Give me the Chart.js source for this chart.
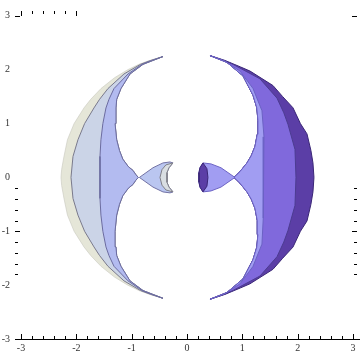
<!DOCTYPE html>
<html>
<head>
<meta charset="utf-8">
<script src="https://cdn.jsdelivr.net/npm/chart.js@4.4.1/dist/chart.umd.min.js"></script>
<style>
  html, body { margin: 0; padding: 0; background: #fff; }
  #wrap { width: 360px; height: 359px; position: relative; }
</style>
</head>
<body>
<div id="wrap"><canvas id="plot"></canvas></div>
<script>
// axis ticks
var tickValues = [-3, -2, -1, 0, 1, 2, 3];

// left crescent, upper half; every curve runs from the tip down to y = 0
var leftOuter = [[-0.434, 2.244], [-0.68, 2.17], [-0.868, 2.10], [-1.07, 2.0], [-1.31, 1.85], [-1.554, 1.65], [-1.74, 1.45], [-1.862, 1.29], [-2.04, 1.0], [-2.16, 0.7], [-2.223, 0.39], [-2.265, 0.15], [-2.277, 0]];
var leftMid   = [[-0.434, 2.244], [-0.66, 2.17], [-0.84, 2.10], [-1.139, 1.92], [-1.428, 1.65], [-1.58, 1.45], [-1.681, 1.29], [-1.85, 1.0], [-1.97, 0.7], [-2.06, 0.39], [-2.096, 0]];
var leftIn    = [[-0.434, 2.244], [-0.64, 2.17], [-0.813, 2.10], [-1.066, 1.92], [-1.319, 1.65], [-1.41, 1.45], [-1.464, 1.29], [-1.52, 1.0], [-1.555, 0.7], [-1.572, 0.39], [-1.572, 0]];
var leftHole  = [[-0.434, 2.244], [-0.62, 2.17], [-0.795, 2.10], [-1.03, 1.92], [-1.193, 1.65], [-1.27, 1.45], [-1.283, 1.29], [-1.30, 1.0], [-1.27, 0.7], [-1.22, 0.5], [-1.16, 0.34], [-1.06, 0.2], [-0.976, 0.13], [-0.93, 0.06], [-0.88, 0]];

// right crescent
var rightOuter = [[0.416, 2.262], [0.687, 2.172], [0.97, 2.05], [1.139, 1.975], [1.554, 1.706], [1.73, 1.5], [1.916, 1.293], [2.05, 1.0], [2.169, 0.808], [2.24, 0.5], [2.277, 0.269], [2.295, 0]];
var rightMid   = [[0.416, 2.262], [0.62, 2.19], [0.831, 2.10], [1.319, 1.831], [1.627, 1.472], [1.75, 1.2], [1.825, 0.987], [1.952, 0.521], [1.970, 0]];
var rightIn    = [[0.416, 2.262], [0.68, 2.16], [0.958, 1.975], [1.193, 1.652], [1.355, 1.239], [1.392, 0.754], [1.374, 0.269], [1.374, 0]];
var rightHole  = [[0.416, 2.262], [0.723, 2.136], [1.012, 1.885], [1.193, 1.526], [1.26, 1.3], [1.283, 1.059], [1.27, 0.8], [1.229, 0.575], [1.16, 0.4], [1.084, 0.269], [0.958, 0.108], [0.9, 0.05], [0.849, 0]];

// small shapes near the centre
var leftFishBack  = [[-0.253, 0.269], [-0.307, 0.287], [-0.434, 0.269], [-0.614, 0.180], [-0.86, 0]];
var leftFishFront = [[-0.253, 0.269], [-0.325, 0.180], [-0.361, 0.090], [-0.361, 0]];
var leftFishLine  = [[-0.253, 0.269], [-0.380, 0.233], [-0.452, 0.144], [-0.488, 0]];
var rightFishBack  = [[0.289, 0.269], [0.434, 0.251], [0.614, 0.180], [0.867, 0]];
var rightFishFront = [[0.289, 0.269], [0.235, 0.180], [0.217, 0.090], [0.217, 0]];
var rightFishLine  = [[0.289, 0.269], [0.361, 0.162], [0.379, 0]];

function flip(p) { return [p[0], -p[1]]; }

// closed outline between two curves, mirrored into the lower half
function region(c1, c2) {
  var pts = c1.concat(
    c1.slice(0, -1).reverse().map(flip),
    c2.slice(1).map(flip),
    c2.slice(0, -1).reverse()
  );
  return pts.map(function(p) { return { x: p[0], y: p[1] }; });
}

function shape(c1, c2, fillColor, lineColor) {
  return {
    data: region(c1, c2),
    showLine: true,
    fill: "shape",
    backgroundColor: fillColor,
    borderColor: lineColor,
    borderWidth: 1,
    pointRadius: 0,
    tension: 0
  };
}

// bottom to top
var layers = [
  shape(leftOuter, leftHole, "#e5e6d8", "rgba(200,200,190,0.6)"),
  shape(leftMid, leftHole, "#cbd4e7", "#7a7a8c"),
  shape(leftIn, leftHole, "#b3bbf0", "#6c6ca0"),
  shape(leftFishBack, leftFishFront, "#bac6f0", "#7272a4"),
  shape(leftFishFront, leftFishLine, "#d9dee2", "#808088"),
  shape(rightOuter, rightHole, "#5b3ea6", "#3a2676"),
  shape(rightMid, rightHole, "#8069dc", "#4c3c92"),
  shape(rightIn, rightHole, "#a19df2", "#6b62c4"),
  shape(rightFishBack, rightFishFront, "#a19df2", "#6b62c4"),
  shape(rightFishFront, rightFishLine, "#5b3ea6", "#3a2676")
];
layers.forEach(function(d, i) { d.order = layers.length - i; });

// frame ticks drawn inward, the way the source plot has them
var frameTicks = {
  id: "frameTicks",
  afterDraw: function(chart) {
    var c = chart.ctx, xs = chart.scales.x, ys = chart.scales.y, a = chart.chartArea;
    c.save();
    c.strokeStyle = "#000";
    c.lineWidth = 1;
    c.beginPath();
    for (var i = -15; i <= 15; i++) {
      var v = i / 5, px = Math.round(xs.getPixelForValue(v)) + 0.5;
      var len = (i % 5 === 0) ? 5 : 3;
      c.moveTo(px, a.bottom); c.lineTo(px, a.bottom - len);
      if (v <= -2) { c.moveTo(px, a.top); c.lineTo(px, a.top + len); }
    }
    for (var j = -9; j <= -1; j++) {
      var w = j / 5, py = Math.round(ys.getPixelForValue(w)) + 0.5;
      var l2 = (j % 5 === 0) ? 5 : 3;
      c.moveTo(a.left, py); c.lineTo(a.left + l2, py);
      c.moveTo(a.right - 3, py); c.lineTo(a.right - 3 - l2, py);
    }
    var p3 = Math.round(ys.getPixelForValue(3)) + 0.5;
    c.moveTo(a.left, p3); c.lineTo(a.left + 5, p3);
    c.moveTo(a.right - 3, p3); c.lineTo(a.right - 8, p3);
    c.stroke();
    c.restore();
  }
};

var fixTicks = function(scale) {
  scale.ticks = tickValues.map(function(v) { return { value: v }; });
};

new Chart(document.getElementById("plot").getContext("2d"), {
  type: "scatter",
  data: { datasets: layers },
  options: {
    responsive: true,
    maintainAspectRatio: false,
    animation: false,
    layout: { padding: 0 },
    plugins: { legend: { display: false }, tooltip: { enabled: false } },
    scales: {
      x: {
        type: "linear",
        min: -3.108,
        max: 3.127,
        afterBuildTicks: fixTicks,
        afterFit: function(s) { s.height = 20; },
        grid: { display: false, drawTicks: false },
        border: { display: true, color: "#000", width: 1 },
        ticks: {
          padding: 3,
          color: "#333",
          font: { family: "Liberation Serif", size: 10 },
          maxRotation: 0
        }
      },
      y: {
        type: "linear",
        min: -3,
        max: 3.09,
        afterBuildTicks: fixTicks,
        afterFit: function(s) { s.width = 15; },
        grid: { display: false, drawTicks: false },
        border: { display: false },
        ticks: {
          padding: 5,
          color: "#333",
          font: { family: "Liberation Serif", size: 10 }
        }
      }
    }
  },
  plugins: [frameTicks]
});
</script>
</body>
</html>
